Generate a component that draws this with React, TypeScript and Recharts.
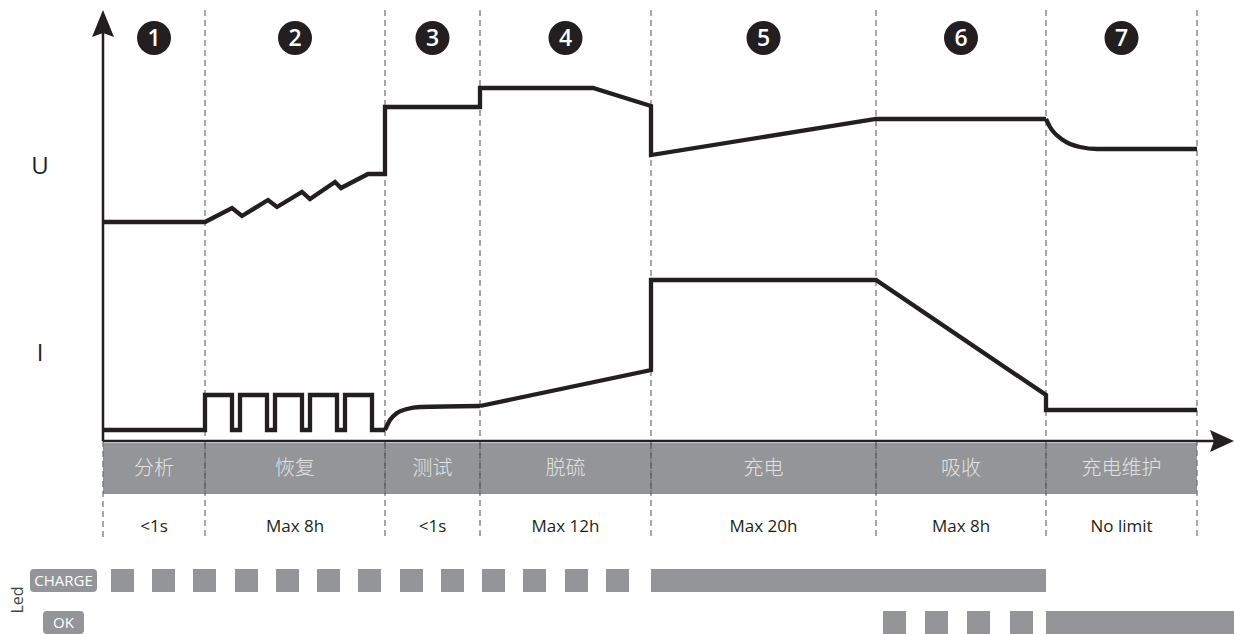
import React from 'react';
import { ComposedChart, Line, Scatter, XAxis, YAxis, ReferenceLine, ReferenceArea } from 'recharts';

// x: horizontal distance from the vertical axis, y: level above the time axis
const BOUNDS = [0, 102, 282, 377, 548, 773, 943, 1094];
const STAGE_NUMBERS = ['1', '2', '3', '4', '5', '6', '7'];
const STAGE_NAMES = ['分析', '恢复', '测试', '脱硫', '充电', '吸收', '充电维护'];
const STAGE_TIMES = ['<1s', 'Max 8h', '<1s', 'Max 12h', 'Max 20h', 'Max 8h', 'No limit'];

const U_MAIN = [
  { x: 0, y: 219 }, { x: 102, y: 219 }, { x: 129, y: 233 }, { x: 139, y: 225 },
  { x: 165, y: 241 }, { x: 174, y: 234 }, { x: 199, y: 249 }, { x: 207, y: 242 },
  { x: 232, y: 259 }, { x: 238, y: 253 }, { x: 265, y: 267 }, { x: 282, y: 267 },
  { x: 282, y: 334 }, { x: 377, y: 334 }, { x: 377, y: 353 }, { x: 490, y: 353 },
  { x: 548, y: 335 }, { x: 548, y: 286 }, { x: 773, y: 322 }, { x: 943, y: 322 },
];
const U_TAIL = [
  { x: 943, y: 322 }, { x: 947, y: 314 }, { x: 960, y: 301 }, { x: 977, y: 294 },
  { x: 994, y: 292 }, { x: 1094, y: 292 },
];

const I_PULSES = [
  { x: 0, y: 11 }, { x: 102, y: 11 }, { x: 102, y: 46 }, { x: 129, y: 46 },
  { x: 129, y: 11 }, { x: 137, y: 11 }, { x: 137, y: 46 }, { x: 164, y: 46 },
  { x: 164, y: 11 }, { x: 172, y: 11 }, { x: 172, y: 46 }, { x: 199, y: 46 },
  { x: 199, y: 11 }, { x: 207, y: 11 }, { x: 207, y: 46 }, { x: 234, y: 46 },
  { x: 234, y: 11 }, { x: 242, y: 11 }, { x: 242, y: 46 }, { x: 269, y: 46 },
  { x: 269, y: 11 }, { x: 282, y: 11 },
];
const I_RISE = [
  { x: 282, y: 11 }, { x: 287, y: 21 }, { x: 294, y: 28 }, { x: 304, y: 32 },
  { x: 317, y: 34 }, { x: 377, y: 35 },
];
const I_MAIN = [
  { x: 377, y: 35 }, { x: 548, y: 71 }, { x: 548, y: 161 }, { x: 773, y: 161 },
  { x: 943, y: 46 }, { x: 943, y: 31 }, { x: 1094, y: 31 },
];

// LED patterns
const CHARGE_BLINKS = [8, 49, 90, 132, 173, 214, 255, 297, 338, 379, 420, 462, 503];
const CHARGE_STEADY = [548, 943];
const OK_BLINKS = [780, 822, 864, 907];
const OK_STEADY = [943, 1131];
const BLINK_W = 23;

const INK = '#231f20';
const GREY = '#939598';
const FONT = '"Open Sans", "Noto Sans", sans-serif';
const CJK = '"Noto Sans CJK SC", sans-serif';

const centers = BOUNDS.slice(0, -1).map((b, i) => (b + BOUNDS[i + 1]) / 2);
const numberPts = centers.map((x, i) => ({ x, y: 403, t: STAGE_NUMBERS[i] }));
const namePts = centers.map((x, i) => ({ x, y: -27, t: STAGE_NAMES[i] }));
const timePts = centers.map((x, i) => ({ x, y: -85, t: STAGE_TIMES[i] }));
const sideLabels = [
  { x: -63, y: 276, t: 'U' },
  { x: -63, y: 89, t: 'I' },
];
const badges = [
  { x: -39.5, y: -139.5, t: 'CHARGE', w: 67 },
  { x: -39.5, y: -181.5, t: 'OK', w: 41 },
];
const arrows = [
  { x: 0, y: 431, dir: 'up' },
  { x: 1131, y: 0, dir: 'right' },
];

const NumberShape = (p: any) => (
  <g>
    <circle cx={p.cx} cy={p.cy} r={17} fill={INK} />
    <text x={p.cx} y={p.cy + 8} textAnchor="middle" fill="#fff" fontSize={23} fontFamily={FONT} fontWeight={600}>
      {p.payload.t}
    </text>
  </g>
);

const TextShape = (size: number, color: string, family: string, weight = 400) => (p: any) => (
  <text
    x={p.cx}
    y={p.cy}
    dy="0.36em"
    textAnchor="middle"
    fill={color}
    fontSize={size}
    fontFamily={family}
    fontWeight={weight}
  >
    {p.payload.t}
  </text>
);

const BadgeShape = (p: any) => (
  <g>
    <rect x={p.cx - p.payload.w / 2} y={p.cy - 11.5} width={p.payload.w} height={23} rx={4} fill={GREY} />
    <text x={p.cx} y={p.cy} dy="0.36em" textAnchor="middle" fill="#fff" fontSize={15} fontFamily={FONT}>
      {p.payload.t}
    </text>
  </g>
);

const ArrowShape = (p: any) => {
  const { cx, cy } = p;
  const pts =
    p.payload.dir === 'up'
      ? `${cx},${cy} ${cx - 11},${cy + 27} ${cx},${cy + 23} ${cx + 11},${cy + 27}`
      : `${cx},${cy} ${cx - 24},${cy - 11} ${cx - 20},${cy} ${cx - 24},${cy + 11}`;
  return <polygon points={pts} fill={INK} />;
};

const LedShape = (p: any) => (
  <text
    x={p.cx}
    y={p.cy}
    dy="0.36em"
    textAnchor="middle"
    fill="#444"
    fontSize={16}
    fontFamily={FONT}
    transform={`rotate(-90 ${p.cx} ${p.cy})`}
  >
    Led
  </text>
);

export default function App() {
  const lineProps = {
    dataKey: 'y',
    stroke: INK,
    strokeWidth: 4.3,
    dot: false,
    activeDot: false,
    isAnimationActive: false,
    strokeLinejoin: 'miter' as const,
    strokeLinecap: 'butt' as const,
  };
  return (
    <div style={{ position: 'absolute', left: 0, top: 0, width: 1234, height: 634, background: '#fff' }}>
      <ComposedChart width={1234} height={634} margin={{ top: 0, right: 0, bottom: 0, left: 0 }}>
        <XAxis type="number" dataKey="x" domain={[-103, 1131]} allowDataOverflow hide />
        <YAxis type="number" dataKey="y" domain={[-193, 441]} allowDataOverflow hide />

        {BOUNDS.slice(1).map((b) => (
          <ReferenceLine
            key={`d${b}`}
            segment={[{ x: b, y: 431 }, { x: b, y: -99 }]}
            stroke="#6d6e71"
            strokeWidth={1.2}
            strokeDasharray="6 4"
          />
        ))}
        <ReferenceLine segment={[{ x: 0, y: 0 }, { x: 0, y: -99 }]} stroke="#6d6e71" strokeWidth={1.2} strokeDasharray="6 4" />

        <ReferenceArea x1={0} x2={BOUNDS[BOUNDS.length - 1]} y1={-2} y2={-53} fill={GREY} fillOpacity={1} stroke="none" />
        {BOUNDS.slice(1, -1).map((b) => (
          <ReferenceLine
            key={`bd${b}`}
            segment={[{ x: b, y: -2 }, { x: b, y: -53 }]}
            stroke="#58595b"
            strokeWidth={1.2}
            strokeDasharray="6 4"
          />
        ))}

        {CHARGE_BLINKS.map((s) => (
          <ReferenceArea key={`c${s}`} x1={s} x2={s + BLINK_W} y1={-128} y2={-151} fill={GREY} fillOpacity={1} stroke="none" />
        ))}
        <ReferenceArea x1={CHARGE_STEADY[0]} x2={CHARGE_STEADY[1]} y1={-128} y2={-151} fill={GREY} fillOpacity={1} stroke="none" />
        {OK_BLINKS.map((s) => (
          <ReferenceArea key={`o${s}`} x1={s} x2={s + BLINK_W} y1={-170} y2={-193} fill={GREY} fillOpacity={1} stroke="none" />
        ))}
        <ReferenceArea x1={OK_STEADY[0]} x2={OK_STEADY[1]} y1={-170} y2={-193} fill={GREY} fillOpacity={1} stroke="none" />

        <Line data={U_MAIN} type="linear" {...lineProps} />
        <Line data={U_TAIL} type="monotone" {...lineProps} />
        <Line data={I_PULSES} type="linear" {...lineProps} />
        <Line data={I_RISE} type="monotone" {...lineProps} />
        <Line data={I_MAIN} type="linear" {...lineProps} />

        <ReferenceLine segment={[{ x: 0, y: 0 }, { x: 0, y: 410 }]} stroke={INK} strokeWidth={2.5} />
        <ReferenceLine segment={[{ x: 0, y: 0 }, { x: 1112, y: 0 }]} stroke={INK} strokeWidth={2.5} />
        <Scatter data={arrows} shape={ArrowShape} isAnimationActive={false} />

        <Scatter data={numberPts} shape={NumberShape} isAnimationActive={false} />
        <Scatter data={namePts} shape={TextShape(20, '#e2e2e3', CJK, 300)} isAnimationActive={false} />
        <Scatter data={timePts} shape={TextShape(17, INK, FONT)} isAnimationActive={false} />
        <Scatter data={sideLabels} shape={TextShape(24, INK, FONT, 500)} isAnimationActive={false} />
        <Scatter data={badges} shape={BadgeShape} isAnimationActive={false} />
        <Scatter data={[{ x: -86, y: -159 }]} shape={LedShape} isAnimationActive={false} />
      </ComposedChart>
    </div>
  );
}
